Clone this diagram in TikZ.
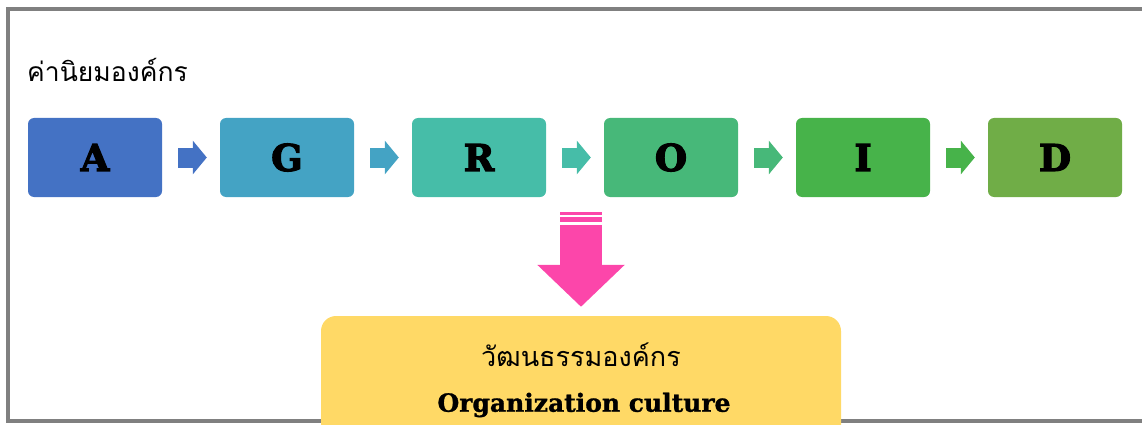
\documentclass[tikz,border=0pt]{standalone}
\usepackage{fontspec}
\usetikzlibrary{arrows.meta,calc}

\newfontfamily\thaifont[Script=Thai]{Loma}
\newfontfamily\slabfont{DejaVu Serif}[FakeBold=1.2]
\newfontfamily\heavyfont{DejaVu Serif}[FakeBold=3]

\definecolor{colA}{HTML}{4472C4}
\definecolor{colG}{HTML}{44A3C4}
\definecolor{colR}{HTML}{46BDA8}
\definecolor{colO}{HTML}{47B879}
\definecolor{colI}{HTML}{47B34A}
\definecolor{colD}{HTML}{70AD47}
\definecolor{framegray}{HTML}{808080}
\definecolor{culturefill}{HTML}{FFD966}
\definecolor{pinkarrow}{HTML}{FC46AA}

\tikzset{
  letterbox/.style={rounded corners=6pt, minimum width=134pt, minimum height=79pt,
    inner sep=0pt, text=black, font=\heavyfont\bfseries\fontsize{37}{40}\selectfont},
  flowarrow/.style={line width=20pt, -{Triangle[length=14pt,width=33pt]}},
  culturebox/.style={fill=culturefill, rounded corners=15pt, minimum width=520pt,
    minimum height=124pt, inner sep=0pt},
}

\begin{document}
\begin{tikzpicture}[x=1pt, y=-1pt]

  \useasboundingbox (0,0) rectangle (1142,425);

  % outer frame (right side runs off the page)
  \draw[framegray, line width=4pt] (1160,9) -- (8,9) -- (8,421) -- (1160,421);

  % heading
  \node[anchor=west, inner sep=0pt, font=\thaifont\fontsize{26.5}{30}\selectfont] (title) at (27,70) {ค่านิยมองค์กร};

  % the six value boxes
  \foreach \n/\l/\c [count=\k] in {a/A/colA, g/G/colG, r/R/colR, o/O/colO, i/I/colI, d/D/colD} {
      \node[letterbox, fill=\c] (\n) at ({95+192*(\k-1)}, 157.5) {\l};
  }

  % small arrows between the boxes
  \foreach \p/\q/\c in {a/g/colA, g/r/colG, r/o/colR, o/i/colO, i/d/colI} {
      \draw[flowarrow, \c] ($(\p.east)+(16,0)$) -- ($(\q.west)+(-13,0)$);
  }

  % result box
  \node[culturebox] (cult) at (581,378) {};
  \node[font=\thaifont\fontsize{27}{30}\selectfont] (cultth) at (581,355) {วัฒนธรรมองค์กร};
  \node[font=\slabfont\bfseries\fontsize{25}{28}\selectfont] (culten) at (584,405) {Organization culture};

  % striped arrow down to the result
  \coordinate (pinktop) at (581,225);
  \fill[pinkarrow] ($(pinktop)+(-21,-13)$) rectangle ($(pinktop)+(21,-10.5)$);
  \fill[pinkarrow] ($(pinktop)+(-21,-8)$) rectangle ($(pinktop)+(21,-3)$);
  \draw[pinkarrow, line width=42pt, -{Triangle[length=42pt,width=85pt]}] (pinktop) -- ($(cult.north)+(0,-9)$);

\end{tikzpicture}
\end{document}
